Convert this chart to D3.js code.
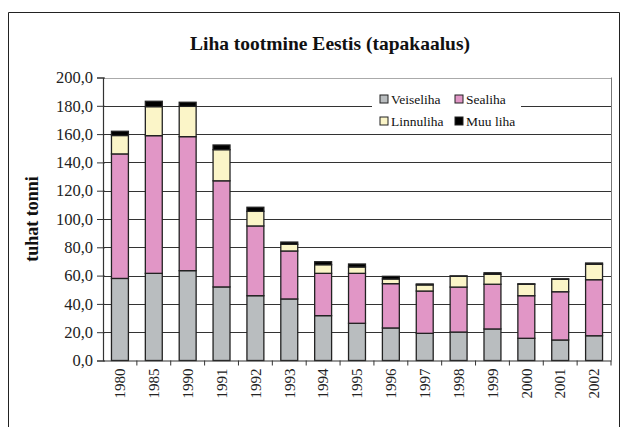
<!DOCTYPE html>
<html>
<head>
<meta charset="utf-8">
<script src="https://cdn.jsdelivr.net/npm/d3@7"></script>
<style>
  body { margin: 0; background: #fff; }
  svg { display: block; }
</style>
</head>
<body>
<div id="grafico"></div>
<script>
// andmed (tuhat tonni)
const aastad = ["1980","1985","1990","1991","1992","1993","1994","1995","1996","1997","1998","1999","2000","2001","2002"];
const veiseliha = [58.0, 61.6, 63.5, 52.0, 45.8, 43.5, 31.7, 26.3, 23.0, 19.2, 20.1, 22.3, 15.7, 14.5, 17.5];
const sealiha   = [88.0, 97.3, 94.7, 75.0, 49.3, 33.9, 29.9, 35.3, 31.3, 29.9, 31.8, 31.6, 30.1, 34.1, 39.6];
const linnuliha = [13.0, 20.5, 21.4, 22.0, 10.3,  4.7,  6.1,  4.5,  3.3,  4.3,  7.6,  7.0,  8.1,  8.8, 10.9];
const muuLiha   = [ 3.0,  3.8,  2.9,  3.3,  2.9,  1.6,  2.1,  2.1,  1.9,  0.7,  0.3,  1.1,  0.3,  0.3,  0.9];
const seeriad = ["Veiseliha", "Sealiha", "Linnuliha", "Muu liha"];
const yTicks = [0, 20, 40, 60, 80, 100, 120, 140, 160, 180, 200];

const width = 625;
const height = 427;
const marginLeft = 103;
const marginRight = 14;
const marginTop = 77.5;
const marginBottom = 66.5;

const varvid = ["#b9bdbf", "#e196c6", "#fbf5c8", "#000000"];

const tabel = aastad.map((a, i) => ({
  aasta: a,
  "Veiseliha": veiseliha[i],
  "Sealiha": sealiha[i],
  "Linnuliha": linnuliha[i],
  "Muu liha": muuLiha[i]
}));

const stack = d3.stack().keys(seeriad)(tabel);

const xScale = d3.scaleBand()
  .domain(aastad)
  .range([marginLeft, width - marginRight])
  .paddingInner(0.5)
  .paddingOuter(0.25);

const xBand = d3.scaleBand()
  .domain(aastad)
  .range([marginLeft, width - marginRight]);

const yScale = d3.scaleLinear()
  .domain([0, 200])
  .range([height - marginBottom, marginTop]);

const color = d3.scaleOrdinal().domain(seeriad).range(varvid);

const svg = d3.select("#grafico")
  .append("svg")
  .attr("width", width)
  .attr("height", height)
  .style("font-family", "'Liberation Serif', serif");

// raam
svg.append("path")
  .attr("d", `M8.5,${height} V12.5 H619.5 V${height}`)
  .attr("fill", "none")
  .attr("stroke", "#222")
  .attr("stroke-width", 1);

// pealkiri
svg.append("text")
  .attr("x", 330)
  .attr("y", 50)
  .attr("text-anchor", "middle")
  .attr("font-size", 19.5)
  .attr("font-weight", "bold")
  .attr("fill", "#111")
  .text("Liha tootmine Eestis (tapakaalus)");

// ruudustik
svg.append("g")
  .selectAll("line")
  .data(yTicks.filter(d => d > 0))
  .join("line")
  .attr("x1", marginLeft)
  .attr("x2", width - marginRight)
  .attr("y1", d => Math.round(yScale(d)) + 0.5)
  .attr("y2", d => Math.round(yScale(d)) + 0.5)
  .attr("stroke", d => d === 200 ? "#aaa" : "#333")
  .attr("stroke-width", 1);

// parem serv
svg.append("line")
  .attr("x1", width - marginRight + 0.5)
  .attr("x2", width - marginRight + 0.5)
  .attr("y1", yScale(200))
  .attr("y2", yScale(0))
  .attr("stroke", "#777");

// tulbad
svg.append("g")
  .selectAll("g")
  .data(stack)
  .join("g")
  .attr("fill", d => color(d.key))
  .selectAll("rect")
  .data(d => d)
  .join("rect")
  .attr("x", d => xScale(d.data.aasta))
  .attr("y", d => yScale(d[1]))
  .attr("width", xScale.bandwidth())
  .attr("height", d => yScale(d[0]) - yScale(d[1]))
  .attr("stroke", "#222")
  .attr("stroke-width", 1.3);

// y telg
const yAxis = d3.axisLeft(yScale)
  .tickValues(yTicks)
  .tickSize(6)
  .tickFormat(d => d3.format(".1f")(d).replace(".", ","));

const gy = svg.append("g")
  .attr("transform", `translate(${marginLeft},0)`)
  .call(yAxis);
gy.select(".domain").attr("stroke", "#333").attr("stroke-width", 1.2);
gy.selectAll(".tick line").attr("stroke", "#333").attr("x2", -6).attr("x1", 2);
gy.selectAll(".tick text")
  .attr("x", -10)
  .attr("font-family", "'Liberation Serif', serif")
  .attr("font-size", 16.5)
  .attr("fill", "#222");

// x telg
const gx = svg.append("g")
  .attr("transform", `translate(0,${yScale(0)})`)
  .call(d3.axisBottom(xScale).tickSize(0));
gx.select(".domain").attr("stroke", "#333").attr("stroke-width", 1.2);
gx.selectAll(".tick text")
  .attr("transform", "rotate(-90)")
  .attr("x", -8)
  .attr("y", 0)
  .attr("dy", "0.35em")
  .attr("text-anchor", "end")
  .attr("font-family", "'Liberation Serif', serif")
  .attr("font-size", 15)
  .attr("fill", "#222");

// kategooriate vahed
gx.append("g")
  .selectAll("line")
  .data(aastad)
  .join("line")
  .attr("x1", d => xBand(d) + xBand.bandwidth())
  .attr("x2", d => xBand(d) + xBand.bandwidth())
  .attr("y1", 0)
  .attr("y2", 5)
  .attr("stroke", "#333");

// telje nimi
svg.append("text")
  .attr("transform", `translate(38,${(yScale(0) + yScale(200)) / 2}) rotate(-90)`)
  .attr("text-anchor", "middle")
  .attr("font-size", 18)
  .attr("font-weight", "bold")
  .attr("fill", "#111")
  .text("tuhat tonni");

// legend
const legend = svg.append("g").attr("transform", "translate(372,90)");
legend.append("rect")
  .attr("width", 149)
  .attr("height", 42)
  .attr("fill", "#fff");

const legendPos = [[8, 12], [83, 12], [8, 34], [83, 34]];
seeriad.forEach((s, i) => {
  const g = legend.append("g").attr("transform", `translate(${legendPos[i][0]},${legendPos[i][1]})`);
  g.append("rect")
    .attr("x", 0)
    .attr("y", -7)
    .attr("width", 8)
    .attr("height", 8)
    .attr("fill", color(s))
    .attr("stroke", "#222");
  g.append("text")
    .attr("x", 11)
    .attr("y", 1.5)
    .attr("font-size", 13.5)
    .attr("fill", "#111")
    .text(s);
});
</script>
</body>
</html>
